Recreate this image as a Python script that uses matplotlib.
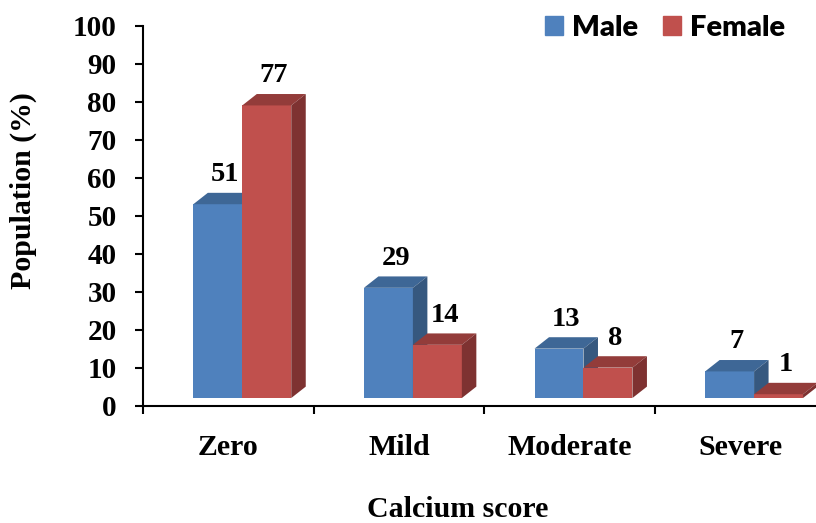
import numpy as np
import matplotlib
matplotlib.use("Agg")
import matplotlib.pyplot as plt
from matplotlib.patches import Patch

categories = ["Zero", "Mild", "Moderate", "Severe"]
male = [51, 29, 13, 7]
female = [77, 14, 8, 1]

serif = "Liberation Serif"

fig = plt.figure(figsize=(8.16, 5.23), dpi=100)
ax = fig.add_axes([143 / 816, 117 / 523, 673 / 816, 380 / 523])
ax.set_xlim(-0.5, 3.445)
ax.set_ylim(0, 100)

# fake 3d: bars float a bit above the floor, with a depth offset
base = 2.1
w = 0.287
shift = 0.082
dx = 0.085
dy = 3.0

x = np.arange(len(categories))
series = [
    (male, x + shift - w, ("#4F81BD", "#3E6796", "#36587F"), "Male"),
    (female, x + shift, ("#C0504D", "#933C3A", "#7E3231"), "Female"),
]

for vals, lefts, (c_front, c_top, c_side), name in series:
    ax.bar(lefts, vals, width=w, bottom=base, align="edge", color=c_front, linewidth=0)
    for l, v in zip(lefts, vals):
        top = base + v
        ax.fill([l, l + w, l + w + dx, l + dx], [top, top, top + dy, top + dy],
                color=c_top, linewidth=0, clip_on=False)
        ax.fill([l + w, l + w + dx, l + w + dx, l + w], [base, base + dy, top + dy, top],
                color=c_side, linewidth=0, clip_on=False)
        ax.annotate(str(v), (l + w / 2 + dx / 2, top + dy), xytext=(0, 4),
                    textcoords="offset points", ha="center", va="bottom",
                    fontsize=20.5, fontweight="bold", family=serif)

for s in ["top", "right"]:
    ax.spines[s].set_visible(False)
for s in ["left", "bottom"]:
    ax.spines[s].set_linewidth(1.5)

ax.set_yticks(np.arange(0, 101, 10))
ax.tick_params(axis="y", direction="out", length=6, width=1.5, pad=13)
for t in ax.get_yticklabels():
    t.set_fontsize(21)
    t.set_fontweight("bold")
    t.set_family(serif)

ax.set_xticks(np.arange(-0.5, 3.0, 1.0))
ax.set_xticklabels([])
ax.set_xticks(x, minor=True)
ax.set_xticklabels(categories, minor=True, fontsize=21.5, fontweight="bold", family=serif)
ax.tick_params(axis="x", which="major", direction="out", length=6, width=1.5)
ax.tick_params(axis="x", which="minor", length=0, pad=20)

ax.set_ylabel("Population (%)", fontsize=21.5, fontweight="bold", family=serif)
ax.yaxis.set_label_coords(-0.157, 0.566)
ax.set_xlabel("Calcium score", fontsize=21.5, fontweight="bold", family=serif)
ax.xaxis.set_label_coords(0.468, -0.238)

handles = [Patch(color="#4F81BD", label="Male"), Patch(color="#C0504D", label="Female")]
fig.legend(handles=handles, loc="upper right", bbox_to_anchor=(785 / 816, 1 - 15 / 523), ncol=2,
           frameon=False, borderpad=0, borderaxespad=0,
           handlelength=0.62, handleheight=0.62, handletextpad=0.3,
           columnspacing=0.85, prop={"family": "Lato", "weight": "heavy", "size": 21})

fig.savefig("out.png", dpi=100)
